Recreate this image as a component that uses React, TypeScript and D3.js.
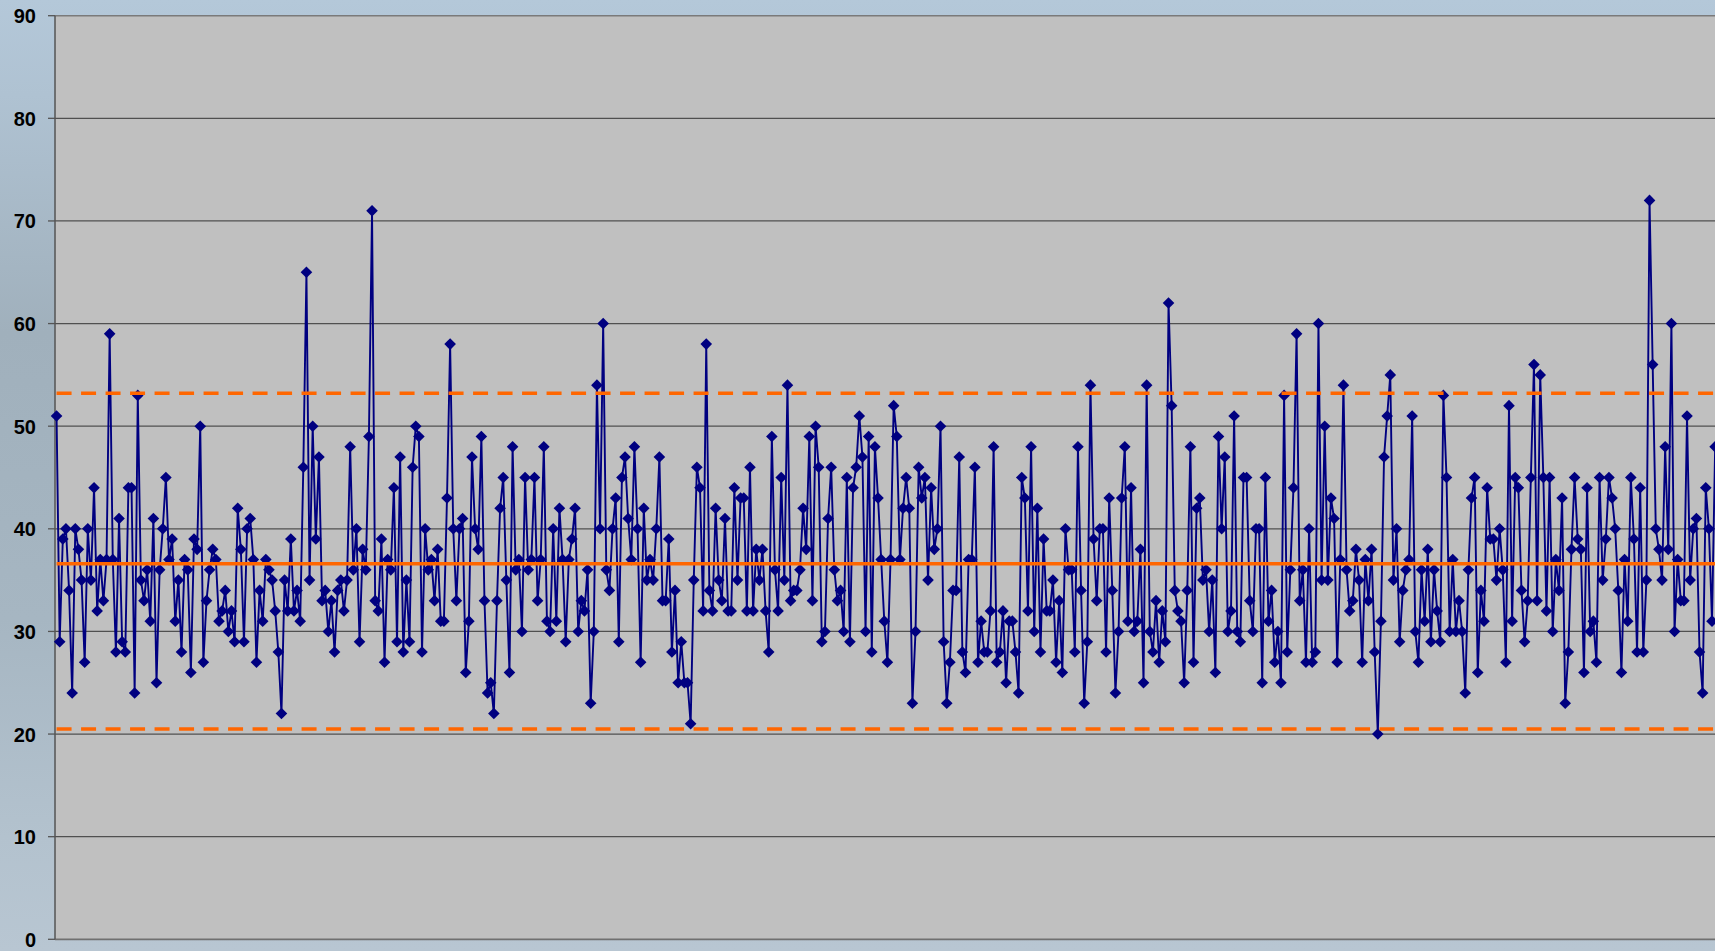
import React from 'react';
import * as d3 from 'd3';

const W = 1715;
const H = 951;

const yTicks = [0, 10, 20, 30, 40, 50, 60, 70, 80, 90];

const values: number[] = [
  51,29,39,40,34,24,40,38,35,27,40,35,44,32,37,33,37,59,37,28,41,29,28,44,44,24,53,35,33,36,31,41,25,36,40,45,37,39,31,35,28,37,36,26,39,38,50,27,33,36,38,37,31,
  32,34,30,32,29,42,38,29,40,41,37,27,34,31,37,36,35,32,28,22,35,32,39,32,34,31,46,65,35,50,39,47,33,34,30,33,28,34,35,32,35,48,36,40,29,38,36,49,71,33,32,39,
  27,37,36,44,29,47,28,35,29,46,50,49,28,40,36,37,33,38,31,31,43,58,40,33,40,41,26,31,47,40,38,49,33,24,25,22,33,42,45,35,26,48,36,37,30,45,36,37,45,33,37,48,31,
  30,40,31,42,37,29,37,39,42,30,33,32,36,23,30,54,40,60,36,34,40,43,29,45,47,41,37,48,40,27,42,35,37,35,40,47,33,33,39,28,34,25,29,25,25,21,35,46,44,32,58,34,
  32,42,35,33,41,32,32,44,35,43,43,32,46,32,38,35,38,32,28,49,36,32,45,35,54,33,34,34,36,42,38,49,33,50,46,29,30,41,46,36,33,34,30,45,29,44,46,51,47,30,49,28,48,
  43,37,31,27,37,52,49,37,42,45,42,23,30,46,43,45,35,44,38,40,50,29,23,27,34,34,47,28,26,37,37,46,27,31,28,28,32,48,27,28,32,25,31,31,28,24,45,43,32,48,30,42,28,
  39,32,32,35,27,33,26,40,36,36,28,48,34,23,29,54,39,33,40,40,28,43,34,24,30,43,48,31,44,30,31,38,25,54,30,28,33,27,32,29,62,52,34,32,31,25,34,48,27,42,43,35,36,30,
  35,26,49,40,47,30,32,51,30,29,45,45,33,30,40,40,25,45,31,34,27,30,25,53,28,36,44,59,33,36,27,40,27,28,60,35,50,35,43,41,27,37,54,36,32,33,38,35,27,37,33,38,28,
  20,31,47,51,55,35,40,29,34,36,37,51,30,27,36,31,38,29,36,32,29,53,45,30,37,30,33,30,24,36,43,45,26,34,31,44,39,39,35,40,36,27,52,31,45,44,34,29,33,45,56,33,55,
  45,32,45,30,37,34,43,23,28,38,45,39,38,26,44,30,31,27,45,35,39,45,43,40,34,26,37,31,45,39,28,44,28,35,72,56,40,38,35,48,38,60,30,37,33,33,51,35,40,41,28,24,44,40,31,48
];

const centerLine = 36.6;
const upperLimit = 53.2;
const lowerLimit = 20.5;

export default function App() {
  const plotLeft = 55;
  const plotRight = 1716.7;
  const plotTop = 15.7;
  const plotBottom = 939.3;

  const idx = d3.range(values.length);
  const x = d3.scalePoint<number>().domain(idx).range([plotLeft, plotRight]).padding(0.5);
  const y = d3.scaleLinear().domain([0, 90]).range([plotBottom, plotTop]);

  const line = d3.line<number>().x((_, i) => x(i) as number).y((d) => y(d));
  const x0 = x(0) as number;
  const x1 = x(values.length - 1) as number;
  const r = 5.8;

  const hLine = (v: number) => d3.line<number>().x((d) => d).y(() => y(v))([x0, x1]) as string;

  return (
    <svg width={W} height={H} style={{ position: 'absolute', left: 0, top: 0, display: 'block' }}>
      <defs>
        <linearGradient id="bgGrad" x1="0" y1="0" x2="0" y2="1">
          <stop offset="0" stopColor="#B4C8D9" />
          <stop offset="0.1" stopColor="#AFC2D2" />
          <stop offset="0.35" stopColor="#A0B0BC" />
          <stop offset="0.65" stopColor="#A6B6C2" />
          <stop offset="0.88" stopColor="#B3C2CE" />
          <stop offset="1" stopColor="#B8C6D2" />
        </linearGradient>
      </defs>
      <rect x={0} y={0} width={W} height={H} fill="url(#bgGrad)" />
      <rect x={plotLeft} y={plotTop} width={W - plotLeft} height={plotBottom - plotTop} fill="#C0C0C0" />
      {yTicks.filter((t) => t !== 0 && t !== 90).map((t) => (
        <line key={'g' + t} x1={plotLeft} x2={W} y1={y(t)} y2={y(t)} stroke="#505050" strokeWidth={1.3} />
      ))}
      <line x1={plotLeft} x2={W} y1={y(90)} y2={y(90)} stroke="#7a7a7a" strokeWidth={1.6} />
      <line x1={plotLeft} x2={W} y1={y(0)} y2={y(0)} stroke="#707070" strokeWidth={1.8} />
      <line x1={plotLeft} x2={plotLeft} y1={plotTop} y2={plotBottom} stroke="#555" strokeWidth={1.5} />
      {yTicks.map((t) => (
        <g key={'t' + t}>
          <line x1={plotLeft - 7} x2={plotLeft} y1={y(t)} y2={y(t)} stroke="#555" strokeWidth={1.3} />
          <text
            x={36}
            y={y(t) + 7.5}
            textAnchor="end"
            fontFamily="'Liberation Sans', Arial, sans-serif"
            fontWeight="bold"
            fontSize={20}
            fill="#000"
          >
            {t}
          </text>
        </g>
      ))}
      <path d={line(values) as string} fill="none" stroke="#000080" strokeWidth={1.9} strokeLinejoin="round" />
      {values.map((v, i) => {
        const cx = x(i) as number;
        const cy = y(v);
        return (
          <path
            key={'m' + i}
            d={`M${cx},${cy - r}L${cx + r},${cy}L${cx},${cy + r}L${cx - r},${cy}Z`}
            fill="#000080"
          />
        );
      })}
      <path d={hLine(centerLine)} stroke="#FF6600" strokeWidth={3.5} fill="none" />
      <path d={hLine(upperLimit)} stroke="#FF6600" strokeWidth={3.5} fill="none" strokeDasharray="15 9.5" />
      <path d={hLine(lowerLimit)} stroke="#FF6600" strokeWidth={3.5} fill="none" strokeDasharray="15 9.5" />
    </svg>
  );
}
